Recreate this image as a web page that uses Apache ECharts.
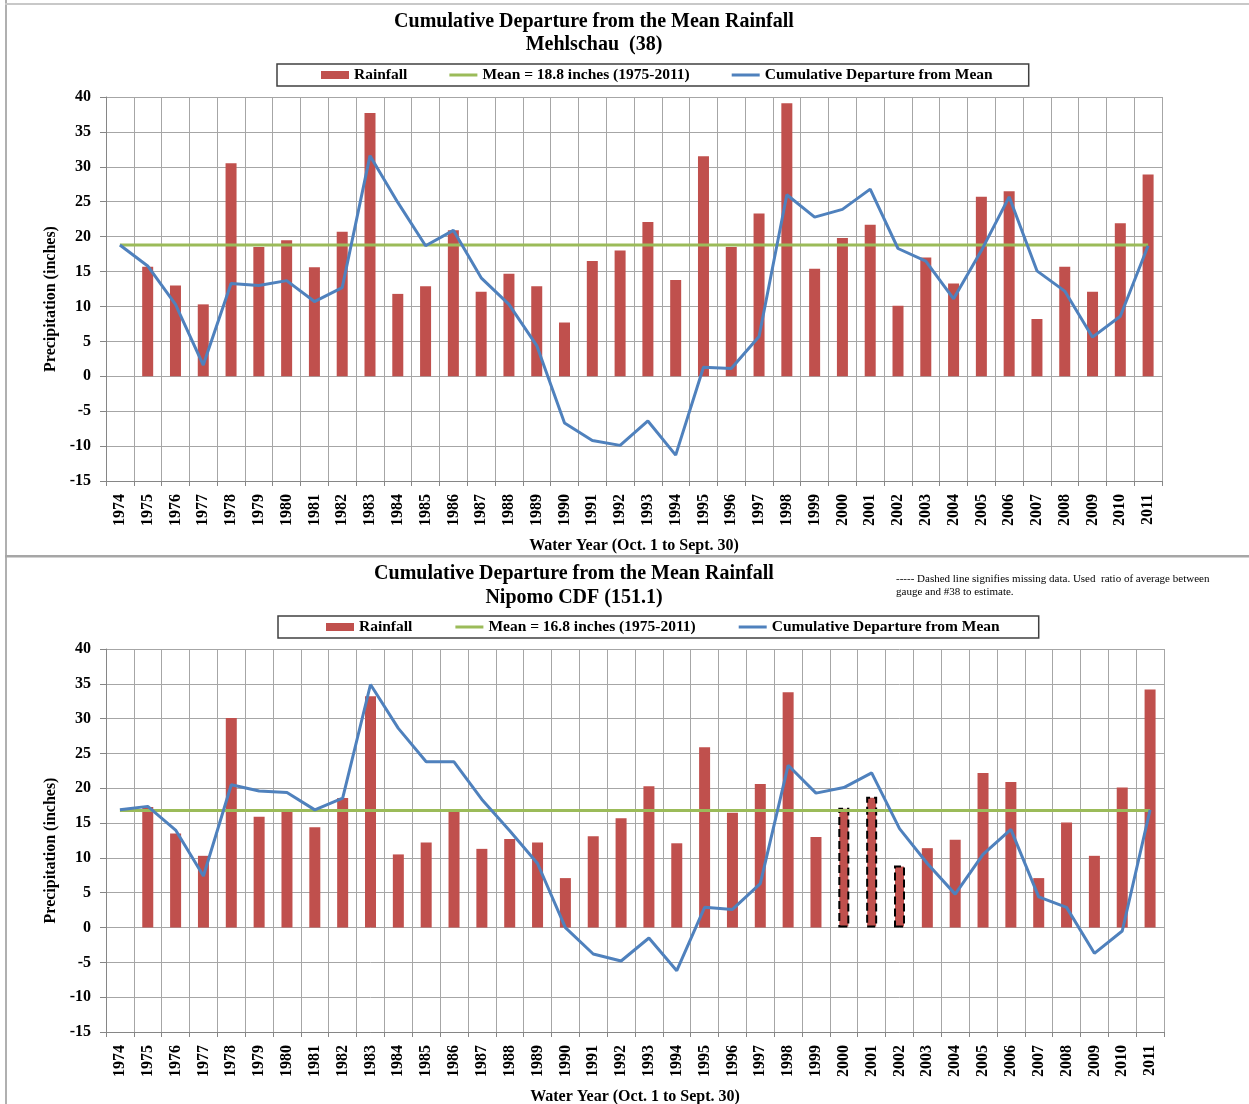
<!DOCTYPE html>
<html>
<head>
<meta charset="utf-8">
<title>Cumulative Departure from the Mean Rainfall</title>
<script src="https://cdn.jsdelivr.net/npm/echarts@6/dist/echarts.min.js"></script>
<style>
    html, body { margin: 0; padding: 0; background: #fff; }
    #chart { width: 1249px; height: 1104px; }
</style>
</head>
<body>
<div id="chart"></div>
<script>
// ==============================================
// DATA
// ==============================================

const years = ['1974', '1975', '1976', '1977', '1978', '1979', '1980', '1981', '1982', '1983',
    '1984', '1985', '1986', '1987', '1988', '1989', '1990', '1991', '1992', '1993',
    '1994', '1995', '1996', '1997', '1998', '1999', '2000', '2001', '2002', '2003',
    '2004', '2005', '2006', '2007', '2008', '2009', '2010', '2011'];

const yTicks = { min: -15, max: 40, interval: 5 };

// Mehlschau (38)
const mehlschauMean = 18.8;
const mehlschauRain = ['-', 15.7, 13.0, 10.3, 30.5, 18.5, 19.5, 15.6, 20.7, 37.7,
    11.8, 12.9, 20.9, 12.1, 14.7, 12.9, 7.7, 16.5, 18.0, 22.1,
    13.8, 31.5, 18.5, 23.3, 39.1, 15.4, 19.8, 21.7, 10.1, 17.0,
    13.3, 25.7, 26.5, 8.2, 15.7, 12.1, 21.9, 28.9];
const mehlschauCum = [18.8, 15.8, 10.3, 1.6, 13.3, 13.0, 13.7, 10.7, 12.7, 31.6,
    24.9, 18.7, 20.9, 14.1, 10.3, 4.4, -6.7, -9.2, -9.9, -6.4,
    -11.3, 1.3, 1.1, 5.7, 26.0, 22.8, 23.9, 26.8, 18.3, 16.5,
    11.1, 18.0, 25.7, 15.1, 12.2, 5.6, 8.6, 18.7];

// Nipomo CDF (151.1)
const nipomoMean = 16.8;
const nipomoRain = ['-', 17.3, 13.5, 10.3, 30.1, 15.9, 16.8, 14.4, 18.6, 33.2,
    10.5, 12.2, 16.9, 11.3, 12.7, 12.2, 7.1, 13.1, 15.7, 20.3,
    12.1, 25.9, 16.5, 20.6, 33.8, 13.0, 17.2, 18.8, 8.9, 11.4,
    12.6, 22.2, 20.9, 7.1, 15.1, 10.3, 20.1, 34.2];
const nipomoCum = [16.9, 17.4, 14.0, 7.4, 20.5, 19.6, 19.4, 16.9, 18.6, 34.9,
    28.6, 23.8, 23.8, 18.4, 13.9, 9.2, 0.0, -3.8, -4.8, -1.5,
    -6.2, 2.9, 2.6, 6.3, 23.3, 19.3, 20.1, 22.2, 14.2, 9.2,
    4.8, 10.5, 14.1, 4.4, 2.9, -3.7, -0.5, 16.9];
const nipomoEstimated = ['2000', '2001', '2002'];   // missing data, drawn dashed

// ==============================================
// STYLE
// ==============================================

const SERIF = "'Liberation Serif', 'Times New Roman', serif";
const RED = '#C0504D', GREEN = '#9BBB59', BLUE = '#4F81BD';
const GRID_C = '#A6A6A6', AXIS_C = '#868686';
const LINE_ICON = 'path://M0,0 H28 V3 H0 Z';

const boldText = (size) => ({ fontFamily: SERIF, fontWeight: 'bold', fontSize: size, color: '#000' });

function ejeX(gridIndex) {
    return {
        type: 'category', gridIndex: gridIndex, data: years, boundaryGap: true,
        axisLine: { onZero: false, lineStyle: { color: AXIS_C, width: 1 } },
        axisTick: { show: true, length: 5, lineStyle: { color: AXIS_C } },
        axisLabel: Object.assign({ interval: 0, rotate: 90, margin: 13 }, boldText(16)),
        splitLine: { show: true, lineStyle: { color: GRID_C, width: 1 } },
        name: 'Water Year (Oct. 1 to Sept. 30)', nameLocation: 'middle', nameGap: 57,
        nameTextStyle: boldText(16)
    };
}

function ejeY(gridIndex) {
    return {
        type: 'value', gridIndex: gridIndex,
        min: yTicks.min, max: yTicks.max, interval: yTicks.interval,
        axisLine: { show: true, lineStyle: { color: AXIS_C, width: 1 } },
        axisTick: { show: true, length: 6, lineStyle: { color: AXIS_C } },
        axisLabel: Object.assign({ margin: 15 }, boldText(16)),
        splitLine: { show: true, lineStyle: { color: GRID_C, width: 1 } },
        name: 'Precipitation (inches)', nameLocation: 'middle', nameRotate: 90, nameGap: 44,
        nameTextStyle: Object.assign({ padding: [0, 20, 0, 0] }, boldText(16))
    };
}

function leyenda(left, top, meanName, gap, pad) {
    return {
        left: left, top: top, orient: 'horizontal',
        itemWidth: 28, itemHeight: 8, itemGap: gap, padding: pad,
        borderColor: '#404040', borderWidth: 1.5, borderRadius: 0,
        selectedMode: false,
        textStyle: boldText(15.5),
        data: [
            { name: 'Rainfall', icon: 'rect' },
            { name: meanName, icon: LINE_ICON },
            { name: 'Cumulative Departure from Mean', icon: LINE_ICON }
        ]
    };
}

function series(idx, rain, mean, cum, estimated) {
    const meanName = 'Mean = ' + mean.toFixed(1) + ' inches (1975-2011)';
    const barData = rain.map((v, i) => estimated.indexOf(years[i]) >= 0
        ? { value: v, itemStyle: { borderColor: '#000', borderWidth: 2, borderType: 'dashed' } }
        : v);
    return [
        {
            name: 'Rainfall', type: 'bar', xAxisIndex: idx, yAxisIndex: idx,
            data: barData, barWidth: 11, itemStyle: { color: RED }, z: 2
        },
        {
            name: meanName, type: 'line', xAxisIndex: idx, yAxisIndex: idx,
            data: years.map(() => mean), symbol: 'none', showSymbol: false,
            lineStyle: { color: GREEN, width: 3 }, itemStyle: { color: GREEN }, z: 3
        },
        {
            name: 'Cumulative Departure from Mean', type: 'line', xAxisIndex: idx, yAxisIndex: idx,
            data: cum, symbol: 'none', showSymbol: false,
            lineStyle: { color: BLUE, width: 3 }, itemStyle: { color: BLUE }, z: 4
        }
    ];
}

// ==============================================
// CHART
// ==============================================

const chart = echarts.init(document.getElementById('chart'), null, { renderer: 'canvas' });

const option = {
    animation: false,
    backgroundColor: '#fff',
    title: [
        {
            text: 'Cumulative Departure from the Mean Rainfall\nMehlschau  (38)',
            left: 594, top: 10, textAlign: 'center', padding: 0,
            textStyle: Object.assign({ lineHeight: 23 }, boldText(20))
        },
        {
            text: 'Cumulative Departure from the Mean Rainfall\nNipomo CDF (151.1)',
            left: 574, top: 562, textAlign: 'center', padding: 0,
            textStyle: Object.assign({ lineHeight: 24 }, boldText(20))
        }
    ],
    legend: [
        leyenda(277, 64, 'Mean = 18.8 inches (1975-2011)', 42, [3, 36, 3, 44]),
        leyenda(278, 616, 'Mean = 16.8 inches (1975-2011)', 43, [3, 39, 3, 48])
    ],
    grid: [
        { left: 106, top: 97, width: 1056, height: 384, outerBoundsMode: 'none' },
        { left: 106, top: 649, width: 1058, height: 383, outerBoundsMode: 'none' }
    ],
    xAxis: [ejeX(0), ejeX(1)],
    yAxis: [ejeY(0), ejeY(1)],
    series: [].concat(
        series(0, mehlschauRain, mehlschauMean, mehlschauCum, []),
        series(1, nipomoRain, nipomoMean, nipomoCum, nipomoEstimated)
    ),
    graphic: [
        { type: 'rect', shape: { x: 5, y: 0, width: 2, height: 1104 }, style: { fill: '#B0B0B0' }, silent: true },
        { type: 'rect', shape: { x: 5, y: 3, width: 1244, height: 2 }, style: { fill: '#C8C8C8' }, silent: true },
        { type: 'rect', shape: { x: 5, y: 555, width: 1244, height: 2.5 }, style: { fill: '#A6A6A6' }, silent: true },
        {
            type: 'text', left: 896, top: 573, silent: true,
            style: {
                text: '----- Dashed line signifies missing data. Used  ratio of average between\ngauge and #38 to estimate.',
                font: '11px ' + SERIF, fill: '#000', lineHeight: 13
            }
        }
    ]
};

chart.setOption(option);
window.addEventListener('resize', () => chart.resize());
</script>
</body>
</html>
